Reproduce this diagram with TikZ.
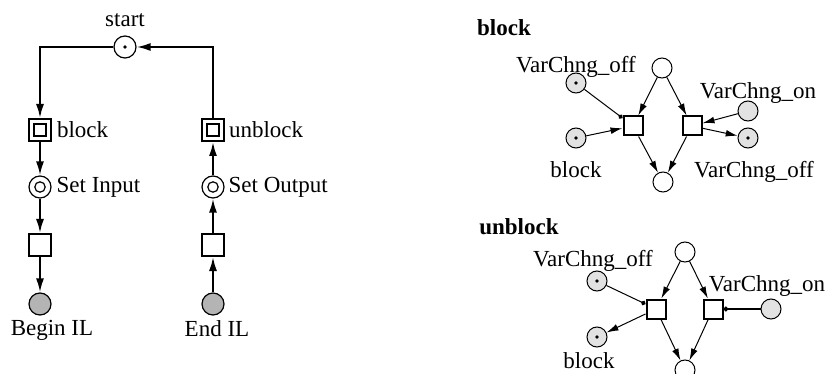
\documentclass[tikz,border=0pt]{standalone}
\usepackage{fontspec}
\setmainfont{Liberation Serif}
\usetikzlibrary{positioning,arrows.meta,calc}
\definecolor{ilgray}{HTML}{B4B4B4}
\definecolor{vargray}{HTML}{E2E2E2}

\begin{document}
\begin{tikzpicture}[x=0.5pt, y=-0.5pt,
  font=\fontsize{11.5}{13}\selectfont,
  place/.style={draw, circle, minimum size=11pt, inner sep=0, line width=0.6pt},
  small/.style={draw, circle, minimum size=10pt, inner sep=0, line width=0.5pt},
  trans/.style={draw, rectangle, minimum size=11pt, inner sep=0, line width=1pt},
  strans/.style={draw, rectangle, minimum size=9.5pt, inner sep=0, line width=1pt},
  token/.style={path picture={\fill[black] (path picture bounding box.center) circle (0.9pt);}},
  dbl/.style={path picture={\draw[line width=0.6pt] (path picture bounding box.center) circle (2.6pt);}},
  dblsq/.style={path picture={\draw[line width=1pt] ([shift={(-3pt,-3pt)}]path picture bounding box.center) rectangle +(6pt,6pt);}},
  arc/.style={line width=1pt, -{Latex[length=7pt,width=4pt]}},
  tarc/.style={line width=0.5pt, -{Latex[length=6pt,width=3.4pt]}},
  rarc/.style={line width=0.5pt, -{Circle[length=2.4pt]}},
  head/.style={font=\fontsize{11.5}{13}\selectfont\bfseries}]
\useasboundingbox (0,0) rectangle (836,374);

% control net
\node[place, token, label={[label distance=1pt]above:start}] (start) at (125,47) {};
\node[trans, dblsq, label={[label distance=-1pt]right:block}] (blk) at (40,130) {};
\node[trans, dblsq, label={[label distance=-1.5pt]right:unblock}] (unblk) at (213,130) {};
\node[place, dbl, label={[label distance=-1pt]right:Set Input}] (setin) at (40,187) {};
\node[place, dbl, label={[label distance=-1.5pt]right:Set Output}] (setout) at (213,187) {};
\node[trans] (tin) at (40,245) {};
\node[trans] (tout) at (213,245) {};
\node[place, fill=ilgray, label={[label distance=-1pt, xshift=6pt]below:Begin IL}] (begin) at (40,304) {};
\node[place, fill=ilgray, label={[label distance=-1pt, xshift=2pt]below:End IL}] (endil) at (213,304) {};

\draw[arc] (start.west) -| (blk);
\draw[arc] (unblk) |- (start.east);
\draw[arc] (blk) -- (setin);
\draw[arc] (setin) -- (tin);
\draw[arc] (tin) -- (begin);
\draw[arc] (endil) -- (tout);
\draw[arc] (tout) -- (setout);
\draw[arc] (setout) -- (unblk);

% block
\node[head] (bhead) at (504,28) {block};
\node[small] (btop) at (662,68) {};
\node[small, fill=vargray, token, label={[label distance=-6pt]above:VarChng\_off}] (boff) at (576,83) {};
\node[strans] (btl) at (633,126) {};
\node[strans] (btr) at (692,126) {};
\node[small, fill=vargray, token, label={[label distance=3pt]below:block}] (bblk) at (576,138) {};
\node[small, fill=vargray, label={[label distance=-5pt, xshift=5pt]above:VarChng\_on}] (bon) at (748,111) {};
\node[small, fill=vargray, token, label={[label distance=3pt, xshift=3pt]below:VarChng\_off}] (boff2) at (748,138) {};
\node[small] (bbot) at (663,182) {};

\draw[rarc] (boff) -- (btl);
\draw[tarc] (bblk) -- (btl);
\draw[tarc] (btop) -- (btl);
\draw[tarc] (btop) -- (btr);
\draw[tarc] (bon) -- (btr);
\draw[tarc] (btr) -- (boff2);
\draw[tarc] (btl) -- (bbot);
\draw[tarc] (btr) -- (bbot);

% unblock
\node[head] (uhead) at (519,227) {unblock};
\node[small] (utop) at (685,252) {};
\node[small, fill=vargray, token, label={[label distance=-4pt, xshift=-2pt]above:VarChng\_off}] (uoff) at (597,281) {};
\node[strans] (utl) at (656,309) {};
\node[strans] (utr) at (713,309) {};
\node[small, fill=vargray, label={[label distance=-2.5pt, xshift=-2pt]above:VarChng\_on}] (uon) at (771,309) {};
\node[small, fill=vargray, token, label={[label distance=-1pt, xshift=-4pt]below:block}] (ublk) at (597,337) {};
\node[small] (ubot) at (685,370) {};

\draw[rarc] (uoff) -- (utl);
\draw[tarc] (utl) -- (ublk);
\draw[tarc] (utop) -- (utl);
\draw[tarc] (utop) -- (utr);
\draw[rarc, line width=0.8pt] (uon) -- (utr);
\draw[tarc] (utl) -- (ubot);
\draw[tarc] (utr) -- (ubot);
\end{tikzpicture}
\end{document}
